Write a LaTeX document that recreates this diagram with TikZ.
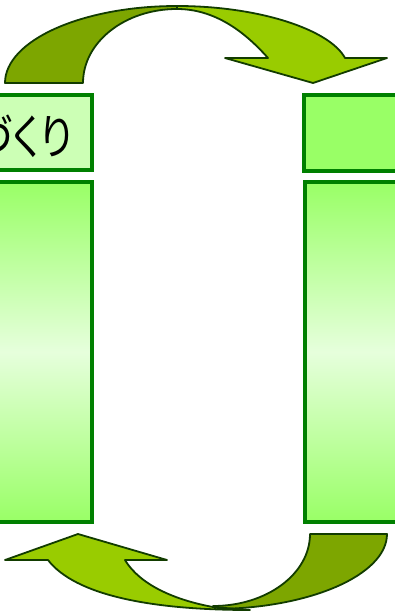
\documentclass[tikz,border=0pt]{standalone}
\usepackage{fontspec}
\newfontfamily\jpfont[RawFeature=+palt]{Noto Sans CJK JP}
\definecolor{boxline}{RGB}{0,128,0}
\definecolor{titlepale}{RGB}{204,255,181}
\definecolor{titlegreen}{RGB}{153,255,102}
\definecolor{gradpale}{RGB}{230,255,220}
\definecolor{bandDark}{RGB}{125,166,0}
\definecolor{bandLight}{RGB}{153,204,0}
\definecolor{bandEdge}{RGB}{18,60,0}
\begin{document}
\begin{tikzpicture}[x=1pt,y=-1pt,
  boxstyle/.style={draw=boxline, line width=4pt, inner sep=0pt, outer sep=0pt},
  bandstyle/.style={draw=bandEdge, line width=1.8pt, line join=round}]
\useasboundingbox (0,0) rectangle (395,613);
\clip (0,0) rectangle (395,613);
% boxes
\node[boxstyle, fill=titlepale, minimum width=116.5pt, minimum height=75.5pt] (ltitle) at (33.25,132.25) {};
\node[inner sep=0pt, font=\jpfont\fontsize{48}{48}\selectfont] (ltext) at (24,136.5)
  {\scalebox{0.82}[1]{づくり}};
\node[boxstyle, fill=titlegreen, minimum width=116pt, minimum height=76.5pt] (rtitle) at (362,132.75) {};
\node[boxstyle, top color=titlegreen, bottom color=titlegreen, middle color=gradpale,
  minimum width=117pt, minimum height=340pt] (lbody) at (33.5,352) {};
\node[boxstyle, top color=titlegreen, bottom color=titlegreen, middle color=gradpale,
  minimum width=115.5pt, minimum height=340pt] (rbody) at (362.25,352) {};
% top curved arrow
\path[bandstyle, fill=bandDark] (5,83) .. controls (5,40.5) and (82,6) .. (177,6)
  -- (177,9) .. controls (125,9) and (83,42) .. (83,83) -- cycle;
\path[bandstyle, fill=bandLight] (177,6) .. controls (260,6) and (330,30) .. (345,58)
  -- (387,58) -- (313,83) -- (225,58) -- (268,58)
  .. controls (245,32) and (215,9) .. (177,9) -- cycle;
% bottom curved arrow
\path[bandstyle, fill=bandDark] (387,534) .. controls (387,575) and (309,609) .. (213,609)
  -- (213,606) .. controls (266.5,606) and (310,574) .. (310,534) -- cycle;
\path[bandstyle, fill=bandLight] (250,610) .. controls (150,610) and (75,595) .. (48,560)
  -- (5,560) -- (78,534) -- (167,560) -- (125,560)
  .. controls (140,585) and (175,600) .. (213,607) -- cycle;
\end{tikzpicture}
\end{document}
